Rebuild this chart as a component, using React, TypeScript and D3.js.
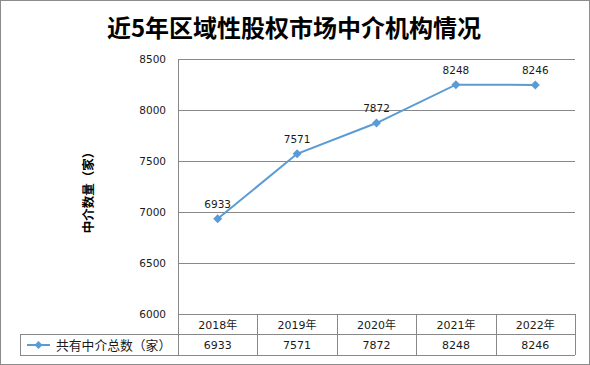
import React from 'react';
import * as d3 from 'd3';

const years = ['2018年', '2019年', '2020年', '2021年', '2022年'];
const counts = [6933, 7571, 7872, 8248, 8246];
const yTicks = [6000, 6500, 7000, 7500, 8000, 8500];
const seriesName = '共有中介总数（家）';
const title = '近5年区域性股权市场中介机构情况';
const yTitle = '中介数量（家）';

const W = 590;
const H = 365;
const plot = {left: 178, right: 575, top: 59, bottom: 314};
const tableMid = 334;
const tableBottom = 355;
const legendLeft = 20;
const lineColor = '#5b9bd5';
const gridColor = '#888888';
const numFont = '"DejaVu Sans", "Noto Sans CJK SC", sans-serif';

const diamond = (cx: number, cy: number, r: number) =>
  `M${cx},${cy - r} L${cx + r},${cy} L${cx},${cy + r} L${cx - r},${cy} Z`;

export default function App() {
  const x = d3.scaleBand<string>().domain(years).range([plot.left, plot.right]);
  const y = d3.scaleLinear().domain([6000, 8500]).range([plot.bottom, plot.top]);

  const line = d3
    .line<number>()
    .x((_, i) => (x(years[i]) as number) + x.bandwidth() / 2)
    .y(d => y(d));

  const colEdges = years.map(c => x(c) as number).concat([plot.right]);

  return (
    <svg
      width={W}
      height={H}
      style={{position: 'absolute', left: 0, top: 0, background: '#fff'}}>
      {/* outer frame */}
      <rect x={0.5} y={0.5} width={W - 1} height={H - 1} fill="none" stroke="#8c8c8c" />

      <text
        x={W / 2 - 1}
        y={37}
        textAnchor="middle"
        fontFamily='"Noto Sans CJK SC", sans-serif'
        fontWeight="bold"
        fontSize={24}
        fill="#000">
        {title}
      </text>

      {/* gridlines */}
      {yTicks.map(t => (
        <line
          key={t}
          x1={plot.left}
          x2={plot.right}
          y1={Math.round(y(t)) + 0.5}
          y2={Math.round(y(t)) + 0.5}
          stroke={gridColor}
        />
      ))}
      {yTicks.map(t => (
        <text
          key={'l' + t}
          x={166}
          y={y(t) + 4}
          textAnchor="end"
          fontFamily={numFont}
          fontSize={10.5}
          fill="#1a1a1a">
          {t}
        </text>
      ))}

      {/* y axis line, runs down through the table */}
      <line x1={plot.left + 0.5} x2={plot.left + 0.5} y1={plot.top} y2={tableBottom} stroke={gridColor} />

      <text
        transform={`translate(93,${(plot.top + plot.bottom) / 2 + 3}) rotate(-90)`}
        textAnchor="middle"
        fontFamily='"Noto Sans CJK SC", sans-serif'
        fontWeight="bold"
        fontSize={12.5}
        fill="#000">
        {yTitle}
      </text>

      {/* data table */}
      <line x1={legendLeft} x2={plot.right} y1={tableMid + 0.5} y2={tableMid + 0.5} stroke={gridColor} />
      <line x1={legendLeft} x2={plot.right} y1={tableBottom + 0.5} y2={tableBottom + 0.5} stroke={gridColor} />
      <line x1={legendLeft + 0.5} x2={legendLeft + 0.5} y1={tableMid} y2={tableBottom} stroke={gridColor} />
      {colEdges.slice(1).map((cx, i) => (
        <line key={'c' + i} x1={Math.round(cx) + 0.5} x2={Math.round(cx) + 0.5} y1={plot.bottom} y2={tableBottom} stroke={gridColor} />
      ))}
      {years.map((c, i) => (
        <g key={c} fontFamily={numFont} fontSize={11} fill="#1a1a1a" textAnchor="middle">
          <text x={(x(c) as number) + x.bandwidth() / 2} y={plot.bottom + 15}>
            {c}
          </text>
          <text x={(x(c) as number) + x.bandwidth() / 2} y={tableMid + 15}>
            {counts[i]}
          </text>
        </g>
      ))}

      {/* legend key */}
      <line x1={27} x2={50} y1={tableMid + 11} y2={tableMid + 11} stroke={lineColor} strokeWidth={2} />
      <path d={diamond(38.5, tableMid + 11, 4)} fill={lineColor} />
      <text
        x={56}
        y={tableMid + 15.5}
        fontFamily='"Noto Sans CJK SC", sans-serif'
        fontSize={12.8}
        fill="#1a1a1a">
        {seriesName}
      </text>

      {/* series */}
      <path d={line(counts) ?? ''} fill="none" stroke={lineColor} strokeWidth={2} />
      {counts.map((v, i) => {
        const cx = (x(years[i]) as number) + x.bandwidth() / 2;
        return (
          <g key={'p' + i}>
            <path d={diamond(cx, y(v), 4.5)} fill={lineColor} />
            <text
              x={cx}
              y={y(v) - 11}
              textAnchor="middle"
              fontFamily={numFont}
              fontSize={10.5}
              fill="#1a1a1a">
              {v}
            </text>
          </g>
        );
      })}
    </svg>
  );
}
